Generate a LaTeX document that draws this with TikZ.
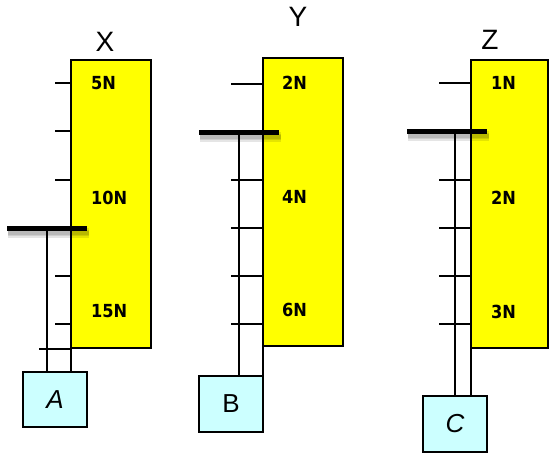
\documentclass[tikz,border=0pt]{standalone}
\usepackage{fontspec}
\setmainfont{Liberation Sans}
\newfontfamily\valfont{DejaVu Sans Condensed}
\definecolor{scaleyellow}{HTML}{FFFF00}
\definecolor{boxcyan}{HTML}{CCFFFF}
\begin{document}
\begin{tikzpicture}[x=1pt,y=-1pt,
  scalebox/.style={draw=black, line width=2pt, fill=scaleyellow, anchor=north west, inner sep=0pt, outer sep=0pt},
  weightbox/.style={draw=black, line width=2pt, fill=boxcyan, anchor=north west, inner sep=0pt, outer sep=0pt, minimum width=64pt, font=\fontsize{26}{28}\selectfont},
  tickline/.style={line width=2pt},
  rodline/.style={line width=2.2pt},
  pointer/.style={line width=5pt},
  pshadow/.style={line width=5pt, black, opacity=0.1},
  vallabel/.style={anchor=west, inner sep=0pt, font=\valfont\bfseries\fontsize{18}{20}\selectfont},
  title/.style={inner sep=0pt, font=\fontsize{28}{30}\selectfont}]
\useasboundingbox (0,0) rectangle (549,457);

% ---------- X ----------
\node[scalebox, minimum width=80pt, minimum height=288pt] (sx) at (71,60) {};
\node[title] (tx) at (105,42) {X};
\foreach \yy/\nm in {83/xa,131.5/xb,180/xc,276/xd,324/xe}{
  \coordinate (\nm) at (71,\yy);
  \draw[tickline] (\nm) -- ++(-16,0);
}
\coordinate (xz) at (71,348.5);
\draw[tickline] (xz) -- (39,348.5);
\node[vallabel] (lx1) at (91,83) {5N};
\node[vallabel] (lx2) at (91,198) {10N};
\node[vallabel] (lx3) at (91,311) {15N};
\node[weightbox, minimum height=55pt] (bA) at (23,372) {\itshape A};
\coordinate (px1) at (7,229);
\coordinate (px2) at (87,229);
\coordinate (rx) at (47,229);
\draw[rodline] (rx) -- (rx |- bA.north);
\draw[rodline] (sx.south west) -- (sx.south west |- bA.north);
\foreach \d in {2,3.5,5,6.5}{
  \draw[pshadow] ([xshift=1pt,yshift=-\d pt]px1) -- ([xshift=2pt,yshift=-\d pt]px2);
}
\draw[pointer] (px1) -- (px2);

% ---------- Y ----------
\node[scalebox, minimum width=80pt, minimum height=288pt] (sy) at (263,58) {};
\node[title] (ty) at (298,17) {Y};
\foreach \yy/\nm in {84/ya,180/yc,228/yd,276/ye,324/yf}{
  \coordinate (\nm) at (263,\yy);
  \draw[tickline] (\nm) -- ++(-32,0);
}
\node[vallabel] (ly1) at (282,83) {2N};
\node[vallabel] (ly2) at (282,197) {4N};
\node[vallabel] (ly3) at (282,310) {6N};
\node[weightbox, minimum height=56pt] (bB) at (199,376) {B};
\coordinate (py1) at (199,133);
\coordinate (py2) at (279,133);
\coordinate (ry) at (239,133);
\draw[rodline] (ry) -- (ry |- bB.north);
\draw[rodline] (sy.south west) -- (sy.south west |- bB.north);
\foreach \d in {2,3.5,5,6.5}{
  \draw[pshadow] ([xshift=1pt,yshift=-\d pt]py1) -- ([xshift=2pt,yshift=-\d pt]py2);
}
\draw[pointer] (py1) -- (py2);

% ---------- Z ----------
\node[scalebox, minimum width=77pt, minimum height=288pt] (sz) at (471,60) {};
\node[title] (tz) at (490,40) {Z};
\foreach \yy/\nm in {83/za,180/zc,228/zd,276/ze,324/zf}{
  \coordinate (\nm) at (471,\yy);
  \draw[tickline] (\nm) -- ++(-32,0);
}
\node[vallabel] (lz1) at (491,83) {1N};
\node[vallabel] (lz2) at (491,198) {2N};
\node[vallabel] (lz3) at (491,312) {3N};
\node[weightbox, minimum height=56pt] (bC) at (423,396) {\itshape C};
\coordinate (pz1) at (407,132);
\coordinate (pz2) at (487,132);
\coordinate (rz) at (455,132);
\draw[rodline] (rz) -- (rz |- bC.north);
\draw[rodline] (sz.south west) -- (sz.south west |- bC.north);
\foreach \d in {2,3.5,5,6.5}{
  \draw[pshadow] ([xshift=1pt,yshift=-\d pt]pz1) -- ([xshift=2pt,yshift=-\d pt]pz2);
}
\draw[pointer] (pz1) -- (pz2);
\end{tikzpicture}
\end{document}
